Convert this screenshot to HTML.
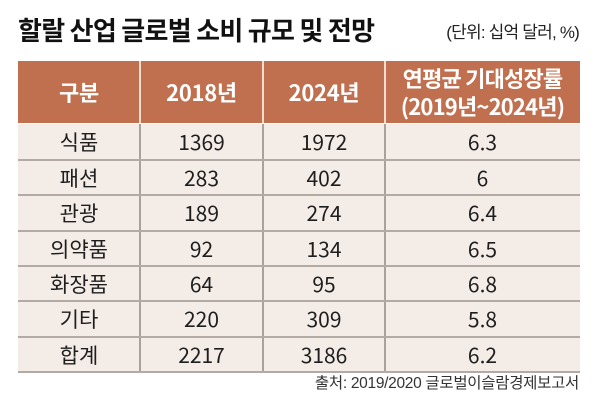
<!DOCTYPE html>
<html>
<head>
<meta charset="utf-8">
<style>
html,body{margin:0;padding:0;}
body{width:600px;height:400px;background:#fff;position:relative;overflow:hidden;
font-family:"Liberation Sans","Noto Sans CJK KR",sans-serif;}
.title{position:absolute;left:18px;top:15px;height:30px;line-height:30px;font-size:26px;font-weight:bold;
font-family:"Noto Sans CJK KR","Liberation Sans",sans-serif;color:#111;letter-spacing:-0.7px;white-space:nowrap;}
.unit{position:absolute;right:21px;top:22px;height:22px;line-height:22px;font-size:17px;color:#222;
font-family:"Liberation Sans","Noto Sans CJK KR",sans-serif;letter-spacing:-0.8px;white-space:nowrap;}
.hdr{position:absolute;left:18px;top:61px;width:562px;height:62px;background:#c0704f;}
.body{position:absolute;left:18px;top:124px;width:562px;height:248px;background:#f4ece7;}
.vh{position:absolute;top:61px;height:62px;width:2px;background:#f2dcd0;}
.vb{position:absolute;top:124px;height:248px;width:2px;background:#aaa19c;}
.hl{position:absolute;left:18px;width:562px;height:2px;background:#b3aaa5;}
.cell{position:absolute;display:flex;align-items:center;justify-content:center;text-align:center;white-space:nowrap;}
.h{color:#fff;font-weight:bold;font-size:22px;letter-spacing:-0.3px;font-family:"Noto Sans CJK KR","Liberation Sans",sans-serif;}
.b{color:#1e1e1e;font-size:21px;font-family:"Noto Sans CJK KR","Liberation Sans",sans-serif;}
.src{position:absolute;right:21px;top:374px;height:20px;line-height:20px;font-size:15.5px;color:#333;letter-spacing:-0.3px;white-space:nowrap;}
</style>
</head>
<body>
<div class="title">할랄 산업 글로벌 소비 규모 및 전망</div>
<div class="unit">(단위: 십억 달러, %)</div>

<div class="hdr"></div>
<div class="body"></div>

<div class="vh" style="left:139px"></div>
<div class="vh" style="left:262px"></div>
<div class="vh" style="left:384px"></div>

<div class="vb" style="left:139px"></div>
<div class="vb" style="left:262px"></div>
<div class="vb" style="left:384px"></div>

<div class="hl" style="top:159px"></div>
<div class="hl" style="top:194px"></div>
<div class="hl" style="top:230px"></div>
<div class="hl" style="top:265px"></div>
<div class="hl" style="top:300px"></div>
<div class="hl" style="top:336px"></div>
<div class="hl" style="top:371px"></div>

<!-- header -->
<div class="cell h" style="left:18px;top:61px;width:122px;height:62px;">구분</div>
<div class="cell h" style="left:140px;top:61px;width:123px;height:62px;">2018년</div>
<div class="cell h" style="left:263px;top:61px;width:122px;height:62px;">2024년</div>
<div class="cell h" style="left:385px;top:61px;width:195px;height:62px;line-height:28px;letter-spacing:-0.8px;">연평균 기대성장률<br>(2019년~2024년)</div>

<!-- rows -->
<div class="cell b" style="left:18px;top:124px;width:122px;height:36px;">식품</div>
<div class="cell b" style="left:140px;top:124px;width:123px;height:36px;">1369</div>
<div class="cell b" style="left:263px;top:124px;width:122px;height:36px;">1972</div>
<div class="cell b" style="left:385px;top:124px;width:195px;height:36px;">6.3</div>

<div class="cell b" style="left:18px;top:160px;width:122px;height:35px;">패션</div>
<div class="cell b" style="left:140px;top:160px;width:123px;height:35px;">283</div>
<div class="cell b" style="left:263px;top:160px;width:122px;height:35px;">402</div>
<div class="cell b" style="left:385px;top:160px;width:195px;height:35px;">6</div>

<div class="cell b" style="left:18px;top:195px;width:122px;height:36px;">관광</div>
<div class="cell b" style="left:140px;top:195px;width:123px;height:36px;">189</div>
<div class="cell b" style="left:263px;top:195px;width:122px;height:36px;">274</div>
<div class="cell b" style="left:385px;top:195px;width:195px;height:36px;">6.4</div>

<div class="cell b" style="left:18px;top:231px;width:122px;height:35px;">의약품</div>
<div class="cell b" style="left:140px;top:231px;width:123px;height:35px;">92</div>
<div class="cell b" style="left:263px;top:231px;width:122px;height:35px;">134</div>
<div class="cell b" style="left:385px;top:231px;width:195px;height:35px;">6.5</div>

<div class="cell b" style="left:18px;top:266px;width:122px;height:35px;">화장품</div>
<div class="cell b" style="left:140px;top:266px;width:123px;height:35px;">64</div>
<div class="cell b" style="left:263px;top:266px;width:122px;height:35px;">95</div>
<div class="cell b" style="left:385px;top:266px;width:195px;height:35px;">6.8</div>

<div class="cell b" style="left:18px;top:301px;width:122px;height:36px;">기타</div>
<div class="cell b" style="left:140px;top:301px;width:123px;height:36px;">220</div>
<div class="cell b" style="left:263px;top:301px;width:122px;height:36px;">309</div>
<div class="cell b" style="left:385px;top:301px;width:195px;height:36px;">5.8</div>

<div class="cell b" style="left:18px;top:337px;width:122px;height:35px;">합계</div>
<div class="cell b" style="left:140px;top:337px;width:123px;height:35px;">2217</div>
<div class="cell b" style="left:263px;top:337px;width:122px;height:35px;">3186</div>
<div class="cell b" style="left:385px;top:337px;width:195px;height:35px;">6.2</div>

<div class="src">출처: 2019/2020 글로벌이슬람경제보고서</div>
</body>
</html>
